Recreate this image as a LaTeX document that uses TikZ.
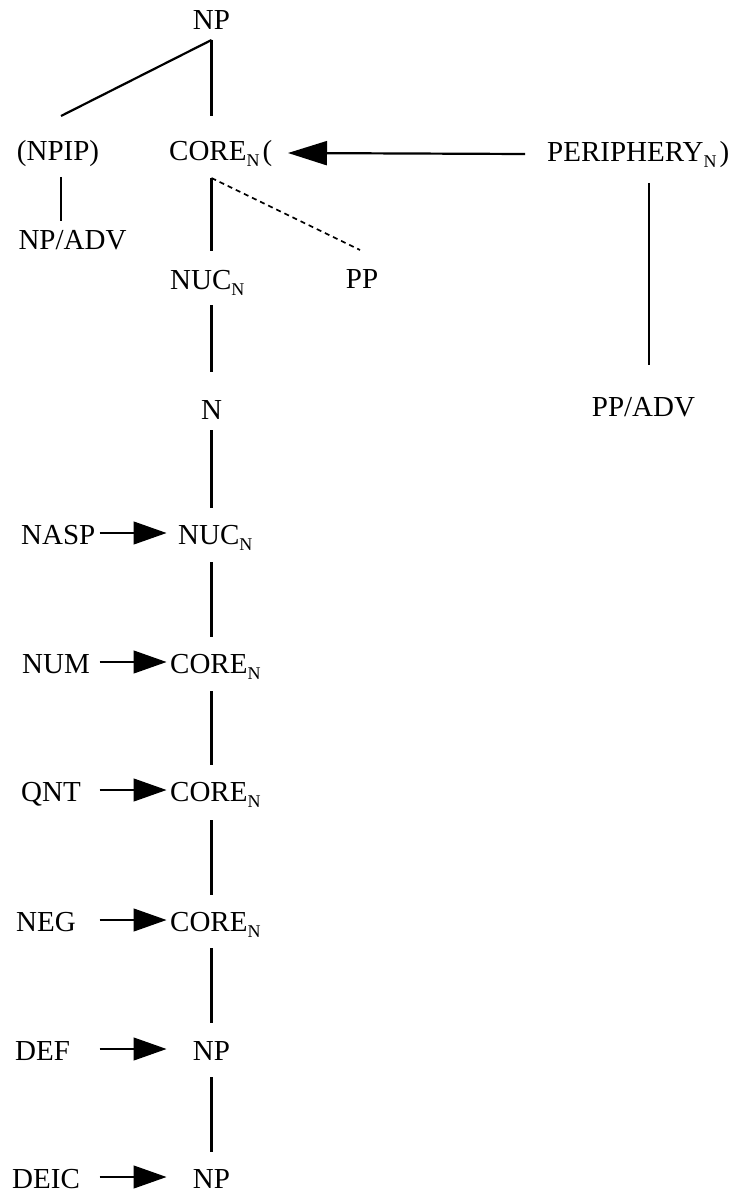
\documentclass[tikz,border=0pt]{standalone}
\usepackage{fontspec}
\setmainfont{Liberation Serif}
\usetikzlibrary{arrows.meta,calc}
\newcommand{\subN}{\raisebox{-6pt}{\fontsize{18}{18}\selectfont N}}
\begin{document}
\begin{tikzpicture}[x=1pt,y=-1pt,
  lbl/.style={inner sep=0pt, font=\fontsize{29}{30}\selectfont},
  ln/.style={line width=2.2pt},
  dsh/.style={line width=1.7pt, dash pattern=on 5pt off 4pt},
  bigarr/.style={line width=2.2pt, -{Triangle[length=39pt,width=24pt]}},
  smallarr/.style={line width=1.2pt, -{Triangle[length=33pt,width=23pt]}}]
\useasboundingbox (0,0) rectangle (739,1198);
% upper tree
\node[lbl, anchor=base] (np0) at (211.5,30) {NP};
\node[lbl, anchor=base] (npip) at (58,161) {(NPIP)};
\node[lbl, anchor=base west] (core0) at (169,161) {CORE\subN\hspace{3pt}(};
\node[lbl, anchor=base west] (peri) at (547,162) {PERIPHERY\subN\hspace{3pt})};
\node[lbl, anchor=base] (npadv) at (72.5,250) {NP/ADV};
\node[lbl, anchor=base west] (nuc0) at (170,289) {NUC\subN};
\node[lbl, anchor=base] (pp) at (362,288) {PP};
\node[lbl, anchor=base] (n) at (211.5,419) {N};
\node[lbl, anchor=base] (ppadv) at (643.5,416) {PP/ADV};
% operator rows
\node[lbl, anchor=base west] (nasp) at (21,544) {NASP};
\node[lbl, anchor=base west] (nuc1) at (178,544) {NUC\subN};
\node[lbl, anchor=base west] (num) at (22,673) {NUM};
\node[lbl, anchor=base west] (core1) at (170,673) {CORE\subN};
\node[lbl, anchor=base west] (qnt) at (21,801) {QNT};
\node[lbl, anchor=base west] (core2) at (170,801) {CORE\subN};
\node[lbl, anchor=base west] (neg) at (16,931) {NEG};
\node[lbl, anchor=base west] (core3) at (170,931) {CORE\subN};
\node[lbl, anchor=base west] (def) at (15,1060) {DEF};
\node[lbl, anchor=base] (np1) at (211.5,1060) {NP};
\node[lbl, anchor=base west] (deic) at (12,1188) {DEIC};
\node[lbl, anchor=base] (np2) at (211.5,1188) {NP};
% tree lines
\draw[ln] ($(np0.base)+(0,10)$) -- ($(npip.base)+(3,-45)$);
\draw[ln] ($(np0.base)+(0,10)$) -- ($(np0.base |- core0.base)+(0,-45)$);
\draw[ln] ($(npip.base)+(3,16)$) -- ($(npip.base |- npadv.base)+(3,-29)$);
\draw[ln] ($(core0.base -| np0.base)+(0,17)$) -- ($(nuc0.base -| np0.base)+(0,-38)$);
\draw[dsh] ($(core0.base -| np0.base)+(0,17)$) -- ($(pp.base)+(-2,-38)$);
\draw[bigarr] ($(peri.base west)+(-22,-8)$) -- ($(core0.base west)+(119,-8)$);
\draw[ln] ($(peri.base west)+(102,21)$) -- ($(peri.base west |- ppadv.base)+(102,-51)$);
% spine
\draw[ln] ($(nuc0.base -| np0.base)+(0,16)$) -- ($(n.base)+(0,-47)$);
\draw[ln] ($(n.base)+(0,11)$) -- ($(nuc1.base -| np0.base)+(0,-36)$);
\draw[ln] ($(nuc1.base -| np0.base)+(0,18)$) -- ($(core1.base -| np0.base)+(0,-36)$);
\draw[ln] ($(core1.base -| np0.base)+(0,18)$) -- ($(core2.base -| np0.base)+(0,-36)$);
\draw[ln] ($(core2.base -| np0.base)+(0,19)$) -- ($(core3.base -| np0.base)+(0,-36)$);
\draw[ln] ($(core3.base -| np0.base)+(0,17)$) -- ($(np1.base)+(0,-37)$);
\draw[ln] ($(np1.base)+(0,17)$) -- ($(np2.base)+(0,-36)$);
% operator arrows
\draw[smallarr] ($(nasp.base west -| np0.base)+(-112,-11)$) -- ($(nasp.base west -| np0.base)+(-45,-11)$);
\draw[smallarr] ($(num.base west -| np0.base)+(-112,-11)$) -- ($(num.base west -| np0.base)+(-45,-11)$);
\draw[smallarr] ($(qnt.base west -| np0.base)+(-112,-11)$) -- ($(qnt.base west -| np0.base)+(-45,-11)$);
\draw[smallarr] ($(neg.base west -| np0.base)+(-112,-11)$) -- ($(neg.base west -| np0.base)+(-45,-11)$);
\draw[smallarr] ($(def.base west -| np0.base)+(-112,-11)$) -- ($(def.base west -| np0.base)+(-45,-11)$);
\draw[smallarr] ($(deic.base west -| np0.base)+(-112,-11)$) -- ($(deic.base west -| np0.base)+(-45,-11)$);
\end{tikzpicture}
\end{document}
